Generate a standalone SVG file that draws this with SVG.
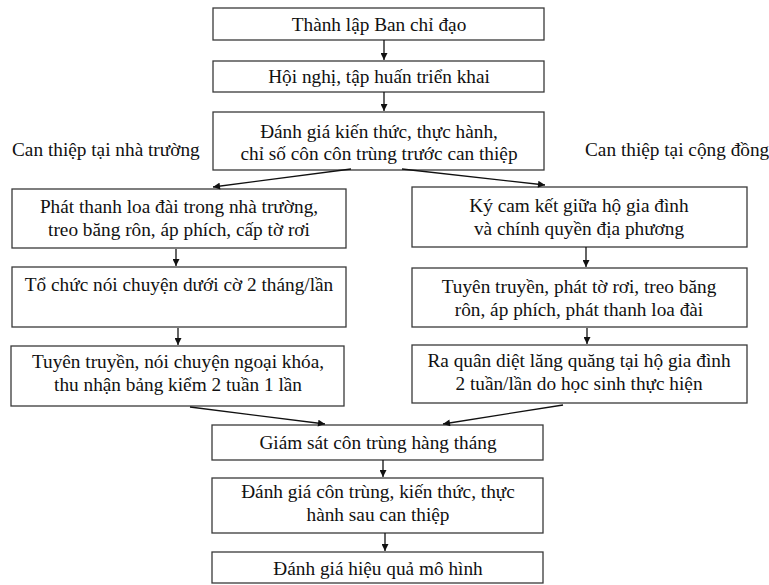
<svg xmlns="http://www.w3.org/2000/svg" width="769" height="585" viewBox="0 0 769 585">
<style>
.box{fill:#fff;stroke:#3a3a3a;stroke-width:1.3}
text{font-family:"Liberation Serif","Times New Roman",serif;font-size:19.3px;fill:#111;text-anchor:middle}
.lbl{text-anchor:start}
.c{stroke:#111;stroke-width:1.3;fill:none;marker-end:url(#ah)}
</style>
<defs>
<marker id="ah" viewBox="0 0 10 10" refX="10" refY="5" markerWidth="8" markerHeight="7" markerUnits="userSpaceOnUse" orient="auto">
<path d="M0,0 L10,5 L0,10 z" fill="#111"/>
</marker>
</defs>
<rect width="769" height="585" fill="#fff"/>
<g id="n1"><rect class="box" x="213" y="8" width="331" height="32"/><text x="379" y="31">Thành lập Ban chỉ đạo</text></g>
<g id="n2"><rect class="box" x="213" y="61" width="331" height="31"/><text x="379" y="83">Hội nghị, tập huấn triển khai</text></g>
<g id="n3"><rect class="box" x="213" y="112" width="331" height="58"/><text x="379" y="138">Đánh giá kiến thức, thực hành,</text><text x="379" y="160">chỉ số côn côn trùng trước can thiệp</text></g>
<g id="lblL"><text class="lbl" x="12" y="156">Can thiệp tại nhà trường</text></g>
<g id="lblR"><text class="lbl" x="585" y="156">Can thiệp tại cộng đồng</text></g>
<g id="l1"><rect class="box" x="12" y="189" width="334" height="59"/><text x="179" y="213">Phát thanh loa đài trong nhà trường,</text><text x="179" y="236">treo băng rôn, áp phích, cấp tờ rơi</text></g>
<g id="l2"><rect class="box" x="12" y="267" width="334" height="60"/><text x="179" y="291">Tổ chức nói chuyện dưới cờ 2 tháng/lần</text></g>
<g id="l3"><rect class="box" x="11" y="346" width="333" height="60"/><text x="178" y="368">Tuyên truyền, nói chuyện ngoại khóa,</text><text x="178" y="391">thu nhận bảng kiểm 2 tuần 1 lần</text></g>
<g id="r1"><rect class="box" x="412" y="187" width="335" height="60"/><text x="579" y="212">Ký cam kết giữa hộ gia đình</text><text x="579" y="235">và chính quyền địa phương</text></g>
<g id="r2"><rect class="box" x="412" y="268" width="335" height="59"/><text x="579" y="293">Tuyên truyền, phát tờ rơi, treo băng</text><text x="579" y="316">rôn, áp phích, phát thanh loa đài</text></g>
<g id="r3"><rect class="box" x="412" y="345" width="335" height="58"/><text x="579" y="367">Ra quân diệt lăng quăng tại hộ gia đình</text><text x="579" y="390">2 tuần/lần do học sinh thực hiện</text></g>
<g id="g1"><rect class="box" x="212" y="425" width="331" height="35"/><text x="378" y="449">Giám sát côn trùng hàng tháng</text></g>
<g id="g2"><rect class="box" x="212" y="478" width="331" height="55"/><text x="378" y="498">Đánh giá côn trùng, kiến thức, thực</text><text x="378" y="521">hành sau can thiệp</text></g>
<g id="g3"><rect class="box" x="212" y="552" width="331" height="31"/><text x="378" y="575">Đánh giá hiệu quả mô hình</text></g>
<g id="connectors">
<line class="c" x1="384" y1="40" x2="384" y2="60"/>
<line class="c" x1="384" y1="92" x2="384" y2="111"/>
<line class="c" x1="351" y1="169" x2="213" y2="187"/>
<line class="c" x1="402" y1="169" x2="545" y2="185"/>
<line class="c" x1="176" y1="249" x2="176" y2="266"/>
<line class="c" x1="178" y1="328" x2="178" y2="345"/>
<line class="c" x1="586" y1="247" x2="586" y2="267"/>
<line class="c" x1="587" y1="328" x2="587" y2="344"/>
<line class="c" x1="190" y1="407" x2="325" y2="424"/>
<line class="c" x1="563" y1="405" x2="443" y2="424"/>
<line class="c" x1="383" y1="460" x2="383" y2="477"/>
<line class="c" x1="385" y1="533" x2="385" y2="551"/>
</g>
</svg>
